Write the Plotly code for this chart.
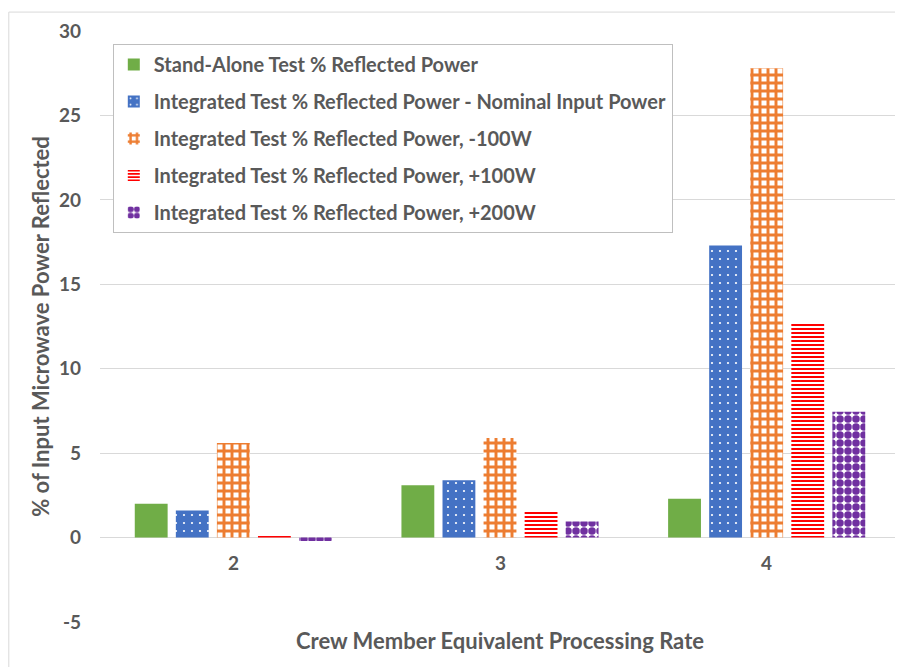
import plotly.graph_objects as go

# data
categories = ["2", "3", "4"]
stand_alone = [2.0, 3.1, 2.3]
integrated_nominal = [1.6, 3.4, 17.3]
integrated_minus100 = [5.6, 5.9, 27.8]
integrated_plus100 = [0.2, 1.6, 12.7]
integrated_plus200 = [-0.2, 0.95, 7.45]

series_names = [
    "Stand-Alone Test % Reflected Power",
    "Integrated Test % Reflected Power - Nominal Input Power",
    "Integrated Test % Reflected Power, -100W",
    "Integrated Test % Reflected Power, +100W",
    "Integrated Test % Reflected Power, +200W",
]
y_ticks = [-5, 0, 5, 10, 15, 20, 25, 30]

TEXT = "#595959"
GRID = "#D9D9D9"

patterns = [
    dict(shape=""),
    dict(shape=".", fgcolor="white", bgcolor="#4472C4", size=8, solidity=0.06, fillmode="replace"),
    dict(shape="+", fgcolor="#ED7D31", bgcolor="white", size=8, solidity=0.6, fillmode="replace"),
    dict(shape="-", fgcolor="#FF0000", bgcolor="white", size=4, solidity=0.5, fillmode="replace"),
    dict(shape=".", fgcolor="#7030A0", bgcolor="white", size=8, solidity=0.7, fillmode="replace"),
]
colours = ["#70AD47", "#4472C4", "#ED7D31", "#FF0000", "#7030A0"]
values = [stand_alone, integrated_nominal, integrated_minus100,
          integrated_plus100, integrated_plus200]

fig = go.Figure()
for i, (name, vals) in enumerate(zip(series_names, values)):
    fig.add_trace(go.Bar(
        x=categories, y=vals, name=f"<b>{name}</b>",
        legendgroup=f"g{i}",
        marker=dict(color=colours[i], pattern=patterns[i],
                    line=dict(width=0)),
    ))

# category labels sit just under the zero line, Excel-style
# (x given as category index so "2" is not read as a number)
for i, c in enumerate(categories):
    fig.add_annotation(x=i, y=0, xref="x", yref="y", yshift=-25,
                       text=f"<b>{c}</b>", showarrow=False,
                       font=dict(size=19, color=TEXT, weight="bold"))

# outer chart border (top and left visible in the reference)
fig.add_shape(type="line", xref="paper", yref="paper",
              x0=-0.114, x1=1.01, y0=1.032, y1=1.032,
              line=dict(color=GRID, width=1))
fig.add_shape(type="line", xref="paper", yref="paper",
              x0=-0.114, x1=-0.114, y0=1.032, y1=-0.1,
              line=dict(color=GRID, width=1))

# page body has an 8px margin, so the figure is sized to the visible area
fig.update_layout(
    width=895, height=659,
    margin=dict(l=92, r=3, t=23, b=45),
    paper_bgcolor="white", plot_bgcolor="white",
    font=dict(family="Lato", color=TEXT),
    barmode="group", bargap=0.23, bargroupgap=0.2,
    legend=dict(
        x=0.016, y=0.978, xanchor="left", yanchor="top",
        bgcolor="white", bordercolor="#BFBFBF", borderwidth=1,
        font=dict(size=20, color=TEXT, family="Lato"),
        tracegroupgap=8, traceorder="grouped",
    ),
    showlegend=True,
)

fig.update_xaxes(type="category", range=[-0.5, 2.5],
                 showticklabels=False, showgrid=False,
                 zeroline=False, showline=False, ticks="", automargin=False,
                 title=dict(text="<b>Crew Member Equivalent Processing Rate</b>",
                            font=dict(size=22, color=TEXT), standoff=11))
fig.update_yaxes(range=[-5, 30], tickvals=y_ticks,
                 ticktext=[f"<b>{v}</b>" for v in y_ticks],
                 tickfont=dict(size=19, color=TEXT),
                 gridcolor=GRID, gridwidth=1, automargin=False,
                 zeroline=True, zerolinecolor=GRID, zerolinewidth=1,
                 showline=False, ticks="", ticklabelstandoff=18,
                 title=dict(text="<b>% of Input Microwave Power Reflected</b>",
                            font=dict(size=22, color=TEXT), standoff=3))

fig.write_html("out.html")
